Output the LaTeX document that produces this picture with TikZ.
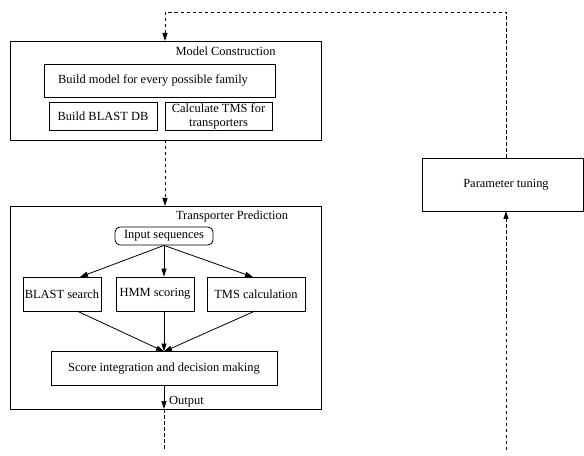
\documentclass[tikz,border=0pt]{standalone}
\usepackage{fontspec}
\setmainfont{Liberation Serif}
\usetikzlibrary{arrows.meta}
\begin{document}
\begin{tikzpicture}[x=1bp,y=-1bp,
  font=\fontsize{12.5}{14}\selectfont,
  box/.style={draw, line width=0.8bp, rectangle, inner sep=0pt, align=center},
  lbl/.style={inner sep=0pt},
  arr/.style={line width=0.8bp, -{Triangle[length=8bp,width=5bp]}},
  dsh/.style={line width=0.8bp, dash pattern=on 3.5bp off 2.5bp}]
\useasboundingbox (0,0) rectangle (584,456);
% Model construction
\node[box, minimum width=311bp, minimum height=99bp] (mc) at (165.5,90.5) {};
\node[lbl] (mcl) at (225.5,51) {Model Construction};
\node[box, minimum width=231bp, minimum height=33bp] (bm) at (159.5,80.5) {Build model for every possible family\hspace*{13bp}};
\node[box, minimum width=108bp, minimum height=28bp] (bdb) at (103,116) {Build BLAST DB};
\node[box, minimum width=107bp, minimum height=28bp] (ctms) at (218.5,116) {Calculate TMS for\\transporters};
% Transporter prediction
\node[box, minimum width=311bp, minimum height=203bp] (tp) at (165.5,307.5) {};
\node[lbl] (tpl) at (232,217) {Transporter Prediction};
\node[box, rounded corners=5bp, minimum width=98bp, minimum height=18bp] (in) at (164,236) {Input sequences};
\node[box, minimum width=78bp, minimum height=34bp] (bs) at (62,294) {BLAST search};
\node[box, minimum width=78bp, minimum height=34bp] (hmm) at (155,294) {HMM scoring};
\node[box, minimum width=98bp, minimum height=34bp] (tc) at (256,294) {TMS calculation};
\node[box, minimum width=226bp, minimum height=34bp] (sc) at (164,368.5) {Score integration and decision making};
\node[lbl, anchor=west] (out) at (169,401.5) {Output};
% Parameter tuning
\node[box, minimum width=161bp, minimum height=53bp] (pt) at (502.5,184.5) {\hspace*{7bp}Parameter tuning};
% coordinates
\coordinate (bsT) at (80,277);
\coordinate (tcT) at (253,277);
\coordinate (bsB) at (77,311);
\coordinate (tcB) at (255,311);
\coordinate (scT) at (164,351.5);
\coordinate (tpB) at (164,409);
\coordinate (bl) at (164,450);
\coordinate (br) at (506,450);
\coordinate (ptT) at (506,158);
\coordinate (ptB) at (506,211);
\coordinate (tr) at (506,12);
\coordinate (tl) at (165,12);
\coordinate (mcT) at (165,41);
\coordinate (mcB) at (165,140);
\coordinate (tpT) at (165,206);
% arrows
\draw[arr] (in.south) -- (bsT);
\draw[arr] (in.south) -- (in.south |- hmm.north);
\draw[arr] (in.south) -- (tcT);
\draw[arr] (bsB) -- (scT);
\draw[arr] (in.south |- hmm.south) -- (scT);
\draw[arr] (tcB) -- (scT);
\draw[arr] (sc.south) -- (tpB);
\draw[dsh] (tpB) -- (bl);
\draw[dsh, -{Triangle[length=8bp,width=5bp]}] (br) -- (ptB);
\draw[dsh] (ptT) -- (tr) -- (tl);
\draw[dsh, -{Triangle[length=8bp,width=5bp]}] (tl) -- (mcT);
\draw[dsh, -{Triangle[length=8bp,width=5bp]}] (mcB) -- (tpT);
\end{tikzpicture}
\end{document}
